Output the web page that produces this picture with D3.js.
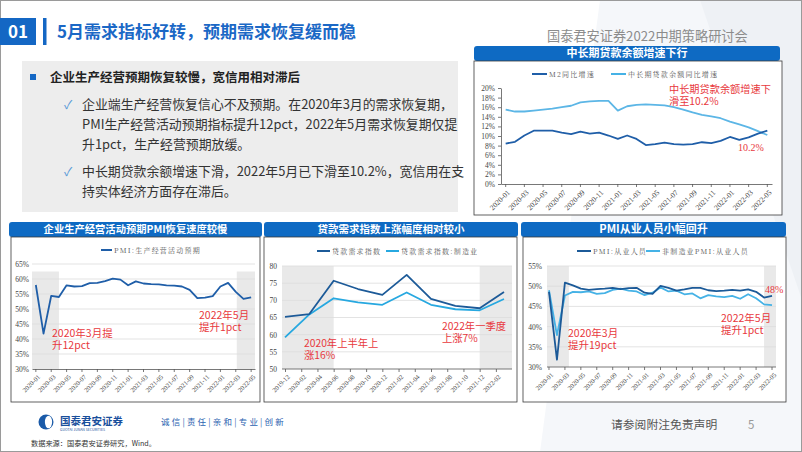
<!DOCTYPE html>
<html><head><meta charset="utf-8">
<script src="https://cdn.jsdelivr.net/npm/d3@7"></script>
<style>
body{margin:0;background:#fff}
svg{display:block;font-family:"Noto Sans CJK SC","Noto Sans",sans-serif}
.note{font-family:"Noto Sans CJK SC",sans-serif;color:#e8383d;white-space:pre;margin:0;padding:0}
</style></head>
<body><svg id="c" width="802" height="452"></svg>
<script>
// ---------------- DATA ----------------
const months = ["2020-01","2020-02","2020-03","2020-04","2020-05","2020-06","2020-07","2020-08","2020-09","2020-10","2020-11","2020-12",
  "2021-01","2021-02","2021-03","2021-04","2021-05","2021-06","2021-07","2021-08","2021-09","2021-10","2021-11","2021-12",
  "2022-01","2022-02","2022-03","2022-04","2022-05"];
const monthTicks = ["2020-01","2020-03","2020-05","2020-07","2020-09","2020-11","2021-01","2021-03","2021-05","2021-07","2021-09","2021-11","2022-01","2022-03","2022-05"];

// top chart: M2 vs mid/long-term loan balance growth (%)
const m2Growth   = [8.4,8.8,10.1,11.1,11.1,11.1,10.7,10.4,10.9,10.5,10.7,10.1,9.4,10.1,9.4,8.1,8.3,8.6,8.3,8.2,8.3,8.7,8.5,9.0,9.8,9.2,9.7,10.5,11.1];
const mlLoanGrowth = [15.5,15.1,15.1,15.3,15.5,15.7,16.0,16.3,17.0,17.2,17.3,17.3,15.3,16.2,16.5,16.6,16.5,16.4,16.0,15.5,14.9,14.4,14.1,13.7,13.0,12.4,11.8,11.0,10.2];
const topYTicks = [0,2,4,6,8,10,12,14,16,18,20];

// chart A: PMI production & business expectations (%)
const pmiExpect = [58.0,41.8,54.4,54.0,57.9,57.5,57.6,58.6,58.7,59.3,60.1,59.8,57.9,59.2,58.5,58.3,58.2,57.9,57.8,57.5,56.4,53.6,53.8,54.3,57.5,58.7,55.7,53.4,53.9];
const aYTicks = [30,35,40,45,50,55,60,65];

// chart B: loan demand index (quarterly)
const bMonths = ["2019-12","2020-01","2020-02","2020-03","2020-04","2020-05","2020-06","2020-07","2020-08","2020-09","2020-10","2020-11","2020-12",
  "2021-01","2021-02","2021-03","2021-04","2021-05","2021-06","2021-07","2021-08","2021-09","2021-10","2021-11","2021-12","2022-01","2022-02","2022-03"];
const bTicks = ["2019-12","2020-02","2020-04","2020-06","2020-08","2020-10","2020-12","2021-02","2021-04","2021-06","2021-08","2021-10","2021-12","2022-02"];
const loanQuarters = ["2019-12","2020-03","2020-06","2020-09","2020-12","2021-03","2021-06","2021-09","2021-12","2022-03"];
const loanDemand    = [65.2,66.0,75.7,73.3,71.6,77.4,70.4,68.4,67.7,72.4];
const loanDemandMfg = [59.2,65.9,70.6,69.4,68.7,72.3,68.7,67.4,67.1,70.4];
const bYTicks = [50,55,60,65,70,75,80];

// chart C: PMI employment (%)
const pmiEmploy    = [48.6,31.8,50.9,50.2,49.4,49.1,49.3,49.4,49.6,49.3,49.5,49.6,48.4,48.1,50.1,49.6,48.9,49.2,49.6,49.6,49.0,48.8,48.9,49.1,48.9,49.2,48.6,47.2,47.6];
const nonMfgEmploy = [49.0,37.9,47.7,48.6,48.5,48.7,48.1,48.3,49.1,49.4,48.9,48.7,47.8,48.4,49.7,48.7,48.9,48.0,48.2,47.0,47.8,47.5,47.3,47.6,46.9,48.0,47.0,45.5,45.3];
const cYTicks = [30,35,40,45,50,55];

// ---------------- STYLE ----------------
const DARK = "#1f5ea8", LIGHT = "#45b2e6", RED = "#e8383d", BAR = "#0e6ac3";
const svg = d3.select("#c");

// background
svg.append("rect").attr("width",802).attr("height",452).attr("fill","#fff");
svg.append("path").attr("d","M600,0 L802,0 L802,452 L540,452 Z").attr("fill","#f5f7fa");
svg.append("path").attr("d","M700,0 L802,0 L802,300 Z").attr("fill","#eef1f5");
svg.append("rect").attr("x",0.5).attr("y",0.5).attr("width",801).attr("height",451).attr("fill","none").attr("stroke","#9a9a9a");

// header
svg.append("rect").attr("x",0).attr("y",18).attr("width",36).attr("height",27).attr("fill","#1467c4");
svg.append("text").attr("x",18).attr("y",38).attr("text-anchor","middle").attr("fill","#fff").attr("font-size",17).attr("font-weight","bold").text("01");
svg.append("rect").attr("x",43).attr("y",18).attr("width",3.5).attr("height",27).attr("fill","#1467c4");
svg.append("text").attr("x",57).attr("y",38).attr("fill","#1b68c6").attr("font-size",17).attr("font-weight","bold").text("5月需求指标好转，预期需求恢复缓而稳");
svg.append("text").attr("x",547).attr("y",41).attr("fill","#8c8c8c").attr("font-size",13.2).text("国泰君安证券2022中期策略研讨会");

// text box
svg.append("rect").attr("x",22).attr("y",61).attr("width",436).attr("height",151).attr("fill","#ededed");
svg.append("rect").attr("x",30).attr("y",74).attr("width",6).attr("height",6).attr("fill","#1467c4");
svg.append("text").attr("x",50).attr("y",82).attr("fill","#222").attr("font-size",12.5).attr("font-weight","bold").text("企业生产经营预期恢复较慢，宽信用相对滞后");
const body = [
  {y:109, chk:true, t:"企业端生产经营恢复信心不及预期。在2020年3月的需求恢复期，"},
  {y:129, chk:false,t:"PMI生产经营活动预期指标提升12pct，2022年5月需求恢复期仅提"},
  {y:149, chk:false,t:"升1pct，生产经营预期放缓。"},
  {y:176, chk:true, t:"中长期贷款余额增速下滑，2022年5月已下滑至10.2%，宽信用在支"},
  {y:196, chk:false,t:"持实体经济方面存在滞后。"}
];
body.forEach(b=>{
  if(b.chk) svg.append("text").attr("x",64).attr("y",b.y).attr("fill","#5a9ad8").attr("font-size",12).text("✓");
  svg.append("text").attr("x",82).attr("y",b.y).attr("fill","#333").attr("font-size",12.9).text(b.t);
});

// helpers
function titleBar(x,y,w,h,text,fs){
  svg.append("rect").attr("x",x).attr("y",y).attr("width",w).attr("height",h).attr("rx",3).attr("fill",BAR);
  svg.append("text").attr("x",x+w/2).attr("y",y+h/2+fs*0.36).attr("text-anchor","middle").attr("fill","#fff")
     .attr("font-size",fs).attr("font-weight","bold").text(text);
}
function box(x,y,w,h){
  svg.append("rect").attr("x",x).attr("y",y).attr("width",w).attr("height",h).attr("fill","#fff").attr("stroke","#3a3a3a").attr("stroke-width",0.8);
}
function legendItem(x,y,color,text,len){
  svg.append("line").attr("x1",x).attr("x2",x+len).attr("y1",y).attr("y2",y).attr("stroke",color).attr("stroke-width",2);
  svg.append("text").attr("x",x+len+2).attr("y",y+2.5).attr("fill","#555").attr("font-size",7).attr("letter-spacing",1.2)
     .attr("font-family","'Noto Serif CJK SC','Noto Sans CJK SC',serif").text(text);
}
// two-line red annotation as a single text block; (x, yBaseline of first line)
function note(x,y,lines,fs,lh){
  const fo = svg.append("foreignObject").attr("x",x).attr("y",y - fs*0.88 - (lh-fs)/2).attr("width",110).attr("height",lh*lines.length+4);
  fo.append("xhtml:div").attr("class","note").style("font-size",fs+"px").style("line-height",lh+"px").text(lines.join("\n"));
}
function styleAxis(g){
  g.selectAll("path,line").attr("stroke","#555").attr("stroke-width",0.8);
  g.selectAll("text").attr("fill","#444").attr("font-family","'Liberation Serif',serif").attr("font-size",7.5);
}
function rotLabels(g){
  g.selectAll("text").attr("transform","rotate(-45)").attr("text-anchor","end").attr("dx","-0.4em").attr("dy","0.5em");
}
function lineOf(x,y,keys,vals,color,w){
  const pts = keys.map((k,i)=>[x(k),y(vals[i])]);
  svg.append("path").attr("d",d3.line().curve(d3.curveLinear)(pts)).attr("fill","none").attr("stroke",color).attr("stroke-width",w||1.6).attr("stroke-linejoin","round");
}

// ---------------- TOP CHART ----------------
titleBar(474,46,306,15,"中长期贷款余额增速下行",11);
box(474,61,308,154);
legendItem(532,74,DARK,"M2同比增速",15);
legendItem(611,74,LIGHT,"中长期贷款余额同比增速",15);
{
  const x = d3.scaleBand().domain(months).range([501,772]);
  const xc = k=>x(k)+x.bandwidth()/2;
  const y = d3.scaleLinear().domain([0,20]).range([184,88]);
  const gy = svg.append("g").attr("transform","translate(501,0)").call(d3.axisLeft(y).tickValues(topYTicks).tickFormat(d=>d+"%").tickSize(3).tickSizeOuter(0));
  styleAxis(gy);
  const gx = svg.append("g").attr("transform","translate(0,184)").call(d3.axisBottom(x).tickValues(monthTicks).tickSize(3).tickSizeOuter(0));
  styleAxis(gx); rotLabels(gx);
  lineOf(xc,y,months,mlLoanGrowth,"#5cb6e6",1.8);
  lineOf(xc,y,months,m2Growth,DARK,1.8);
  note(669,93,["中长期贷款余额增速下","滑至10.2%"],10.2,12);
  svg.append("text").attr("x",738).attr("y",151).attr("fill",RED).attr("font-size",10).attr("font-family","'Liberation Serif',serif").text("10.2%");
}

// ---------------- CHART A ----------------
titleBar(9,222,253,15,"企业生产经营活动预期PMI恢复速度较慢",10.3);
box(11,237,249,165);
legendItem(101,250,DARK,"PMI:生产经营活动预期",11);
{
  const x = d3.scaleBand().domain(months).range([32,255]);
  const xc = k=>x(k)+x.bandwidth()/2;
  const y = d3.scaleLinear().domain([30,65]).range([369,264]);
  svg.append("rect").attr("x",32).attr("y",y(62.5)).attr("width",xc("2020-04")-32).attr("height",369-y(62.5)).attr("fill","#e9e9e9");
  svg.append("rect").attr("x",xc("2022-03")+1).attr("y",y(62.5)).attr("width",255-xc("2022-03")-1).attr("height",369-y(62.5)).attr("fill","#e9e9e9");
  svg.append("g").selectAll("line").data(aYTicks.slice(1)).join("line").attr("x1",32).attr("x2",255)
     .attr("y1",d=>y(d)).attr("y2",d=>y(d)).attr("stroke","#dcdcdc").attr("stroke-width",0.8);
  const gy = svg.append("g").attr("transform","translate(32,0)").call(d3.axisLeft(y).tickValues(aYTicks).tickFormat(d=>d+"%").tickSize(0));
  styleAxis(gy); gy.select(".domain").remove();
  const gx = svg.append("g").attr("transform","translate(0,369)").call(d3.axisBottom(x).tickValues(monthTicks).tickSize(3).tickSizeOuter(0));
  styleAxis(gx); rotLabels(gx); gx.selectAll("text").attr("font-size",6.5);
  lineOf(xc,y,months,pmiExpect,DARK,1.8);
  note(52,337,["2020年3月提","升12pct"],10.5,12);
  note(199,319,["2022年5月","提升1pct"],10.5,12);
}

// ---------------- CHART B ----------------
titleBar(264,222,254,15,"贷款需求指数上涨幅度相对较小",10.5);
box(264,237,253,165);
legendItem(317,251,"#1c5a98","贷款需求指数",13);
legendItem(386,251,"#27a8e0","贷款需求指数:制造业",13);
{
  const x = d3.scalePoint().domain(bMonths).range([285,504]);
  const y = d3.scaleLinear().domain([50,80]).range([369,266]);
  svg.append("rect").attr("x",282).attr("y",266).attr("width",x("2020-06")-282).attr("height",103).attr("fill","#e9e9e9");
  svg.append("rect").attr("x",x("2021-12")).attr("y",266).attr("width",512-x("2021-12")).attr("height",103).attr("fill","#e9e9e9");
  svg.append("g").selectAll("line").data(bYTicks.slice(1)).join("line").attr("x1",282).attr("x2",512)
     .attr("y1",d=>y(d)).attr("y2",d=>y(d)).attr("stroke","#dcdcdc").attr("stroke-width",0.8);
  const gy = svg.append("g").attr("transform","translate(280,0)").call(d3.axisLeft(y).tickValues(bYTicks).tickSize(0));
  styleAxis(gy); gy.select(".domain").remove();
  const gx = svg.append("g").attr("transform","translate(0,369)").call(d3.axisBottom(x).tickValues(bTicks).tickSize(3).tickSizeOuter(0));
  styleAxis(gx); rotLabels(gx); gx.selectAll("text").attr("font-size",6.5);
  gx.select(".domain").attr("d","M282,0H512");
  lineOf(x,y,loanQuarters,loanDemandMfg,"#27a8e0",1.8);
  lineOf(x,y,loanQuarters,loanDemand,"#1c5a98",1.8);
  note(304,347,["2020年上半年上","涨16%"],10.3,12);
  note(442,330,["2022年一季度","上涨7%"],10.3,12);
}

// ---------------- CHART C ----------------
titleBar(521,222,265,15,"PMI从业人员小幅回升",11);
box(523,237,263,165);
legendItem(577,251,"#1c5a98","PMI:从业人员",14);
legendItem(646,251,LIGHT,"非制造业PMI:从业人员",14);
{
  const x = d3.scaleBand().domain(months).range([545,776]);
  const xc = k=>x(k)+x.bandwidth()/2;
  const y = d3.scaleLinear().domain([30,55]).range([367,266]);
  svg.append("rect").attr("x",547).attr("y",266).attr("width",x("2020-04")-547).attr("height",101).attr("fill","#e9e9e9");
  svg.append("rect").attr("x",xc("2022-04")).attr("y",266).attr("width",776-xc("2022-04")).attr("height",101).attr("fill","#e9e9e9");
  svg.append("g").selectAll("line").data(cYTicks.slice(1)).join("line").attr("x1",547).attr("x2",776)
     .attr("y1",d=>y(d)).attr("y2",d=>y(d)).attr("stroke","#dcdcdc").attr("stroke-width",0.8);
  const gy = svg.append("g").attr("transform","translate(545,0)").call(d3.axisLeft(y).tickValues(cYTicks).tickFormat(d=>d+"%").tickSize(0));
  styleAxis(gy); gy.select(".domain").remove();
  const gx = svg.append("g").attr("transform","translate(0,367)").call(d3.axisBottom(x).tickValues(monthTicks).tickSize(3).tickSizeOuter(0));
  styleAxis(gx); rotLabels(gx); gx.selectAll("text").attr("font-size",6.5);
  gx.select(".domain").attr("d","M547,0H776");
  lineOf(xc,y,months,nonMfgEmploy,LIGHT,1.8);
  lineOf(xc,y,months,pmiEmploy,"#1c5a98",1.8);
  svg.append("text").attr("x",765).attr("y",293).attr("fill",RED).attr("font-size",10).attr("font-family","'Liberation Serif',serif").text("48%");
  note(568,337,["2020年3月","提升19pct"],10.5,12);
  note(721,322,["2022年5月","提升1pct"],10.5,12);
}

// ---------------- FOOTER ----------------
svg.append("circle").attr("cx",46).attr("cy",422).attr("r",7.5).attr("fill","#1a5aa8");
svg.append("ellipse").attr("cx",48.5).attr("cy",422).attr("rx",3.6).attr("ry",6.3).attr("fill","#fff");
svg.append("text").attr("x",60).attr("y",425).attr("fill","#1a4f9c").attr("font-size",10.5).attr("font-weight","bold").text("国泰君安证券");
svg.append("text").attr("x",60).attr("y",431).attr("fill","#1a4f9c").attr("font-size",3.5).text("GUOTAI JUNAN SECURITIES");
svg.append("text").attr("x",161).attr("y",425).attr("fill","#2a62b0").attr("font-size",8.5).attr("letter-spacing",2.2).text("诚信|责任|亲和|专业|创新");
svg.append("text").attr("x",31).attr("y",446).attr("fill","#333").attr("font-size",7.2).text("数据来源：国泰君安证券研究，Wind。");
svg.append("text").attr("x",611).attr("y",429).attr("fill","#555").attr("font-size",11.8).text("请参阅附注免责声明");
svg.append("text").attr("x",748).attr("y",429).attr("fill","#999").attr("font-size",11.5).text("5");
</script></body></html>
